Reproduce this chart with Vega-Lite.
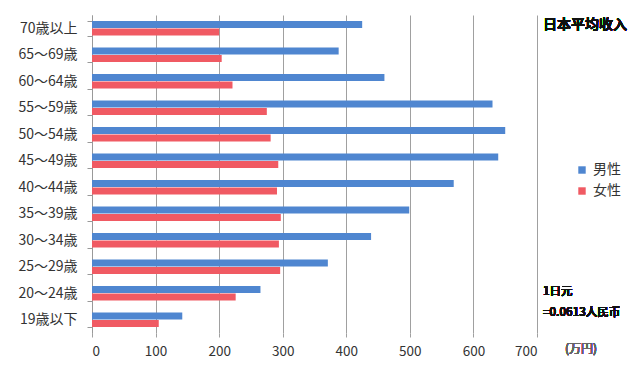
{
  "$schema": "https://vega.github.io/schema/vega-lite/v6.json",
  "width": 445,
  "height": 318,
  "autosize": {"type": "none"},
  "padding": {"left": 92, "top": 15, "right": 101, "bottom": 34},
  "background": "white",
  "config": {
    "font": "Noto Sans CJK JP",
    "view": {"stroke": null}
  },
  "data": {
    "values": [
      {"age": "70歳以上", "sex": "男性", "income": 425},
      {"age": "70歳以上", "sex": "女性", "income": 200},
      {"age": "65～69歳", "sex": "男性", "income": 388},
      {"age": "65～69歳", "sex": "女性", "income": 204},
      {"age": "60～64歳", "sex": "男性", "income": 460},
      {"age": "60～64歳", "sex": "女性", "income": 221},
      {"age": "55～59歳", "sex": "男性", "income": 630},
      {"age": "55～59歳", "sex": "女性", "income": 275},
      {"age": "50～54歳", "sex": "男性", "income": 650},
      {"age": "50～54歳", "sex": "女性", "income": 281},
      {"age": "45～49歳", "sex": "男性", "income": 639},
      {"age": "45～49歳", "sex": "女性", "income": 293},
      {"age": "40～44歳", "sex": "男性", "income": 569},
      {"age": "40～44歳", "sex": "女性", "income": 291},
      {"age": "35～39歳", "sex": "男性", "income": 499},
      {"age": "35～39歳", "sex": "女性", "income": 297},
      {"age": "30～34歳", "sex": "男性", "income": 439},
      {"age": "30～34歳", "sex": "女性", "income": 294},
      {"age": "25～29歳", "sex": "男性", "income": 371},
      {"age": "25～29歳", "sex": "女性", "income": 296},
      {"age": "20～24歳", "sex": "男性", "income": 265},
      {"age": "20～24歳", "sex": "女性", "income": 226},
      {"age": "19歳以下", "sex": "男性", "income": 142},
      {"age": "19歳以下", "sex": "女性", "income": 105}
    ]
  },
  "encoding": {
    "y": {
      "field": "age",
      "type": "nominal",
      "sort": null,
      "scale": {"paddingInner": 0.45, "paddingOuter": 0.225},
      "axis": {
        "title": null,
        "domainColor": "#999999",
        "tickColor": "#999999",
        "tickBand": "extent",
        "tickSize": 5,
        "labelFontSize": 14,
        "labelColor": "#333333",
        "labelPadding": 10,
        "grid": false
      }
    }
  },
  "layer": [
    {
      "mark": {"type": "bar"},
      "encoding": {
        "x": {
          "field": "income",
          "type": "quantitative",
          "scale": {"domain": [0, 700]},
          "axis": {
            "title": null,
            "values": [0, 100, 200, 300, 400, 500, 600, 700],
            "grid": true,
            "gridColor": "#a0a0a0",
            "gridWidth": 1,
            "domain": false,
            "tickColor": "#a0a0a0",
            "tickSize": 4,
            "labelFontSize": 13.5,
            "labelColor": "#333333",
            "labelPadding": 7
          }
        },
        "yOffset": {"field": "sex", "type": "nominal", "sort": ["男性", "女性"], "scale": {"paddingInner": 0.05}},
        "color": {
          "field": "sex",
          "type": "nominal",
          "sort": ["男性", "女性"],
          "scale": {"domain": ["男性", "女性"], "range": ["#4F86D0", "#F05A63"]},
          "legend": {
            "title": null,
            "orient": "none",
            "legendX": 483,
            "legendY": 148,
            "symbolType": "square",
            "symbolSize": 55,
            "labelFontSize": 14,
            "labelColor": "#333333",
            "rowPadding": 7,
            "symbolStrokeWidth": 0
          }
        }
      }
    },
    {
      "mark": {"type": "text", "text": "日本平均收入", "align": "left", "baseline": "middle", "dx": 6, "dy": -3, "fontSize": 14, "fontWeight": 500, "font": "Noto Sans CJK SC", "color": "#111111"},
      "encoding": {"x": {"datum": 700}, "y": {"datum": "70歳以上"}}
    },
    {
      "mark": {"type": "text", "text": "1日元", "align": "left", "baseline": "middle", "dx": 6, "dy": -1, "fontSize": 11.5, "fontWeight": 500, "font": "Noto Sans CJK SC", "color": "#111111"},
      "encoding": {"x": {"datum": 700}, "y": {"datum": "20～24歳"}}
    },
    {
      "mark": {"type": "text", "text": "=0.0613人民币", "align": "left", "baseline": "middle", "dx": 6, "dy": -7, "fontSize": 11.5, "fontWeight": 500, "font": "Noto Sans CJK SC", "color": "#111111"},
      "encoding": {"x": {"datum": 700}, "y": {"datum": "19歳以下"}}
    },
    {
      "mark": {"type": "text", "text": "(万円)", "align": "left", "baseline": "middle", "dx": 28, "dy": 29, "fontSize": 12, "color": "#666666"},
      "encoding": {"x": {"datum": 700}, "y": {"datum": "19歳以下"}}
    }
  ]
}
